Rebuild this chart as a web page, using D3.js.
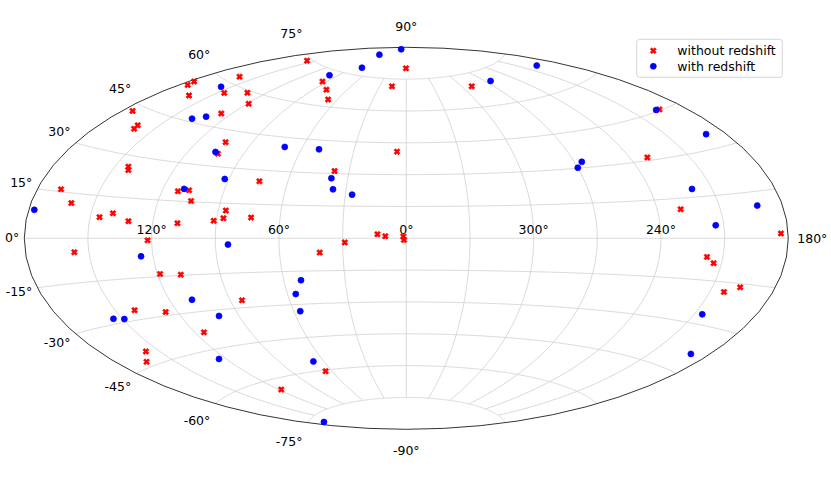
<!DOCTYPE html>
<html><head><meta charset="utf-8">
<script src="https://cdn.jsdelivr.net/npm/d3@7"></script>
<style>
body{margin:0;background:#fff}
svg{display:block}
text{font-family:"DejaVu Sans",sans-serif;font-size:12.5px;fill:#000}
</style>
</head><body>
<svg id="chart" width="831" height="479"></svg>
<script>
// ---- data: [longitude (deg), latitude (deg)] ----
const noRedshift = [
  [157.4,74.1],[0.6,80.1],[177.1,55.9],[175.6,54.5],[161.3,62.4],[93.9,69.9],[16.2,71.5],
  [162.1,52.4],[146.2,56.8],[132.6,59.2],[79.0,67.1],[67.5,63.1],[119.1,55.8],[174.7,42.9],
  [126.3,50.3],[161.0,39.7],[160.3,38.4],[104.7,40.1],[103.6,35.2],[5.3,40.8],[143.5,26.1],
  [142.3,24.9],[37.6,31.2],[74.3,25.1],[168.7,15.8],[160.9,11.7],[112.3,18.9],[107.1,19.6],
  [104.2,15.3],[145.6,7.5],[139.7,9.1],[131.6,6.4],[108.3,6.1],[91.3,7.4],[86.9,8.6],
  [86.4,11.9],[73.8,9.1],[121.9,-0.8],[29.0,-1.9],[13.6,1.9],[9.9,1.0],[1.4,0.9],[1.1,-0.8],
  [290.1,69.4],[193.9,45.3],[231.0,31.2],[228.8,10.9],[183.4,1.5],[156.9,-4.7],[41.0,-6.6],
  [118.8,-14.0],[109.0,-14.7],[84.1,-26.8],[140.6,-26.5],[125.9,-28.6],[115.2,-38.1],
  [157.0,-40.4],[164.7,-43.3],[64.9,-60.5],[118.3,-64.3],[217.5,-6.7],[213.7,-8.8],
  [203.2,-18.3],[196.7,-16.2]
];
const withRedshift = [
  [81.0,88.8],[104.3,84.7],[78.6,78.4],[99.1,72.8],[156.0,58.0],[138.1,46.2],[132.1,48.0],
  [105.6,35.8],[70.1,40.8],[50.1,40.8],[92.1,25.2],[38.4,27.8],[36.5,22.7],[26.7,20.4],
  [109.8,20.0],[177.3,8.7],[84.1,-2.7],[197.0,69.1],[264.6,70.1],[196.0,45.5],[189.7,34.7],
  [266.1,32.5],[270.0,30.2],[219.6,18.0],[192.0,10.5],[213.8,4.6],[125.7,-6.9],[51.6,-19.1],
  [55.9,-25.3],[56.6,-33.1],[108.9,-25.0],[100.4,-32.5],[154.4,-28.2],[149.2,-28.9],
  [124.1,-48.7],[67.2,-55.7],[168.1,-77.3],[206.0,-26.6],[189.3,-39.0]
];
const lonTicks = [120, 60, 0, -60, -120];
const lonTickLabels = ["120°", "60°", "0°", "300°", "240°"];
const edgeLonLabel = "180°";
const latTicks = [90, 75, 60, 45, 30, 15, 0, -15, -30, -45, -60, -75, -90];
const latTickLabels = ["90°","75°","60°","45°","30°","15°","0°","-15°","-30°","-45°","-60°","-75°","-90°"];
const meridians = d3.range(-150, 180, 30);
const parallels = d3.range(-75, 76, 15);
const seriesNames = ["without redshift", "with redshift"];

// ---- Aitoff projection ----
function aitoffRaw(l, p) {
  const cp = Math.cos(p), a = Math.acos(cp * Math.cos(l / 2));
  const s = a ? a / Math.sin(a) : 1;
  return [2 * cp * Math.sin(l / 2) * s, Math.sin(p) * s];
}
const projection = d3.geoProjection(aitoffRaw).reflectX(true)
  .fitExtent([[24.3, 47.3], [788.3, 429.3]], {type: "Sphere"});
const path = d3.geoPath(projection);
const [cx, cy] = projection([0, 0]);

const svg = d3.select("#chart");
svg.append("rect").attr("width", 831).attr("height", 479).attr("fill", "#fff");

// grid
const gridLines = [];
meridians.forEach(lon => gridLines.push(d3.range(-75, 75.01, 1).map(lat => [lon, lat])));
parallels.forEach(lat => gridLines.push(d3.range(-179.99, 180, 1).concat([179.99]).map(lon => [lon, lat])));
svg.append("path")
  .datum({type: "MultiLineString", coordinates: gridLines})
  .attr("d", path).attr("fill", "none").attr("stroke", "#cfcfcf").attr("stroke-width", 0.8);

// outline
svg.append("path").datum({type: "Sphere"}).attr("d", path)
  .attr("fill", "none").attr("stroke", "#000").attr("stroke-width", 0.8);

// longitude labels
lonTicks.forEach((lon, i) => {
  const [x, y] = projection([lon, 0]);
  svg.append("text").attr("x", x).attr("y", y - 4.5).attr("text-anchor", "middle").text(lonTickLabels[i]);
});
{
  const [x, y] = projection([-179.99, 0]);
  svg.append("text").attr("x", x + 9).attr("y", y).attr("dy", "0.36em").attr("text-anchor", "start").text(edgeLonLabel);
}

// latitude labels
latTicks.forEach((lat, i) => {
  const [x, y] = projection([179.99, lat]);
  const t = svg.append("text").text(latTickLabels[i]).attr("dy", "0.36em");
  if (Math.abs(lat) === 90) {
    t.attr("x", cx).attr("y", cy + 1.11 * (y - cy)).attr("text-anchor", "middle");
  } else {
    t.attr("x", x - 5).attr("y", cy + 1.105 * (y - cy) - 1).attr("text-anchor", "end");
  }
});

// markers (matplotlib-style filled "X")
const symbolXFilled = {
  draw(ctx, size) {
    const m = Math.sqrt(size);
    const pts = [[-1,-2],[0,-1],[1,-2],[2,-1],[1,0],[2,1],[1,2],[0,1],[-1,2],[-2,1],[-1,0],[-2,-1]]
      .map(([x, y]) => [x * m / 4, y * m / 4]);
    ctx.moveTo(pts[0][0], pts[0][1]);
    for (let k = 1; k < pts.length; k++) ctx.lineTo(pts[k][0], pts[k][1]);
    ctx.closePath();
  }
};
const xSym = d3.symbol().type(symbolXFilled).size(36)();
const oSym = d3.symbol().type(d3.symbolCircle).size(Math.PI * 9)();

svg.append("g").selectAll("path").data(noRedshift).join("path")
  .attr("d", xSym).attr("transform", d => `translate(${projection(d)})`)
  .attr("fill", "red").attr("stroke", "red").attr("stroke-width", 0.7);
svg.append("g").selectAll("path").data(withRedshift).join("path")
  .attr("d", oSym).attr("transform", d => `translate(${projection(d)})`)
  .attr("fill", "blue").attr("stroke", "blue").attr("stroke-width", 0.7);

// legend
const lg = svg.append("g");
lg.append("rect").attr("x", 636.7).attr("y", 39.3).attr("width", 145.6).attr("height", 38).attr("rx", 3)
  .attr("fill", "#fff").attr("fill-opacity", 0.8).attr("stroke", "#cccccc").attr("stroke-width", 0.8);
[[xSym, "red"], [oSym, "blue"]].forEach(([sym, col], i) => {
  const yy = 50.7 + i * 15.6;
  lg.append("path").attr("d", sym).attr("transform", `translate(653.3,${yy})`)
    .attr("fill", col).attr("stroke", col).attr("stroke-width", 0.7);
  lg.append("text").attr("x", 677.3).attr("y", yy + 4.4).text(seriesNames[i]);
});
</script>
</body></html>
